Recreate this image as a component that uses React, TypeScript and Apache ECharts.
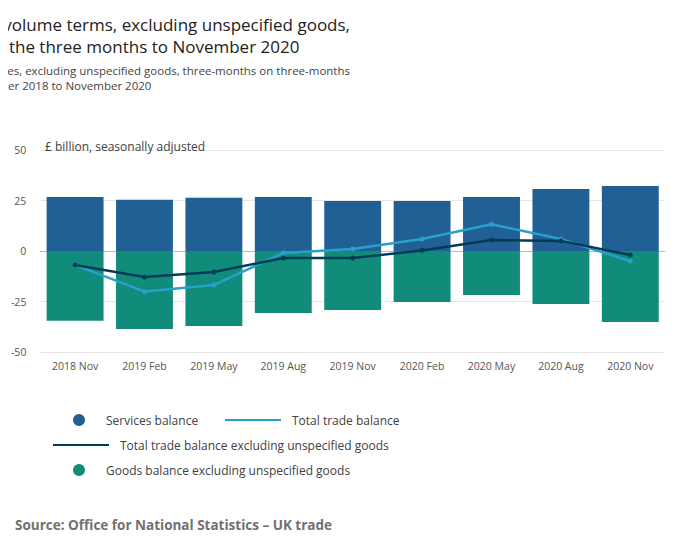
import React, { useEffect, useRef } from "react";
import * as echarts from "echarts";

const categories = ["2018 Nov","2019 Feb","2019 May","2019 Aug","2019 Nov","2020 Feb","2020 May","2020 Aug","2020 Nov"];
const services = [26.7,25.4,26.3,26.7,24.8,24.8,26.7,30.7,32.2];
const goods = [-34.5,-38.6,-37.1,-30.7,-29.2,-25.2,-21.8,-26.2,-35.1];
const total = [-6.9,-20.1,-16.8,-1,1,5.9,13.2,5.9,-5];
const totalExcl = [-6.9,-12.9,-10.4,-3.5,-3.5,0.3,5.4,5,-2];

const font = "'Open Sans', 'Noto Sans', sans-serif";

export default function App() {
  const ref = useRef<HTMLDivElement>(null);
  useEffect(() => {
    const chart = echarts.init(ref.current!, null, { renderer: "svg" });
    const leg = (name: string, left: number, top: number, icon: string) => ({
      data: [name], left, top, icon, itemWidth: icon === "circle" ? 12 : 56, itemHeight: 12, itemGap: 10,
      textStyle: { fontFamily: font, fontSize: 12, color: "#414042", padding: [0, 0, 0, icon === "circle" ? 16 : 6] },
    });
    chart.setOption({
      animation: false,
      textStyle: { fontFamily: font },
      title: [
        { text: "Figure 5: The trade balance in volume terms, excluding unspecified goods,\ndecreased to a deficit in the three months to November 2020", left: "center", top: 0,
          textAlign: "center", textStyle: { fontFamily: font, fontSize: 17, fontWeight: "normal", color: "#222", lineHeight: 22 } },
        { text: "Total trade balances, chained volume measures, excluding unspecified goods, three-months on three-months\nNovember 2018 to November 2020", left: "center", top: 50,
          textAlign: "center", textStyle: { fontFamily: font, fontSize: 11.5, fontWeight: "normal", color: "#444", lineHeight: 15 } },
        { text: "£ billion, seasonally adjusted", left: 32, top: 127, textStyle: { fontFamily: font, fontSize: 12, fontWeight: "normal", color: "#414042" } },
        { text: "Source: Office for National Statistics – UK trade", left: 2, top: 505, textStyle: { fontFamily: font, fontSize: 13.5, fontWeight: "bold", color: "#707070" } },
      ],
      legend: [
        leg("Services balance", 60, 401, "circle"),
        leg("Total trade balance", 212, 401, "path://M0,5H56V7H0Z"),
        leg("Total trade balance excluding unspecified goods", 40, 426, "path://M0,5H56V7H0Z"),
        leg("Goods balance excluding unspecified goods", 60, 451, "circle"),
      ],
      grid: { left: 32, right: 27, top: 142, bottom: 189 },
      xAxis: {
        type: "category", data: categories,
        axisLine: { lineStyle: { color: "#bbb" } }, axisTick: { lineStyle: { color: "#bbb" } },
        axisLabel: { color: "#555", fontSize: 10.5 },
      },
      yAxis: {
        type: "value", min: -50, max: 50, interval: 25,
        axisLabel: { color: "#555", fontSize: 10.5, margin: 14 },
        splitLine: { lineStyle: { color: "#e5e5e5" } },
      },
      series: [
        { name: "Services balance", type: "bar", stack: "b", data: services, barCategoryGap: "18%", itemStyle: { color: "#206095" } },
        { name: "Goods balance excluding unspecified goods", type: "bar", stack: "b", data: goods, itemStyle: { color: "#118c7b" } },
        { name: "Total trade balance", type: "line", data: total, symbol: "circle", symbolSize: 5, lineStyle: { width: 2.5, color: "#27a0cc" }, itemStyle: { color: "#27a0cc" } },
        { name: "Total trade balance excluding unspecified goods", type: "line", data: totalExcl, symbol: "circle", symbolSize: 5, lineStyle: { width: 2.5, color: "#003c57" }, itemStyle: { color: "#003c57" } },
      ],
    });
    return () => chart.dispose();
  }, []);
  return <div ref={ref} style={{ width: 684, height: 533 }} />;
}
